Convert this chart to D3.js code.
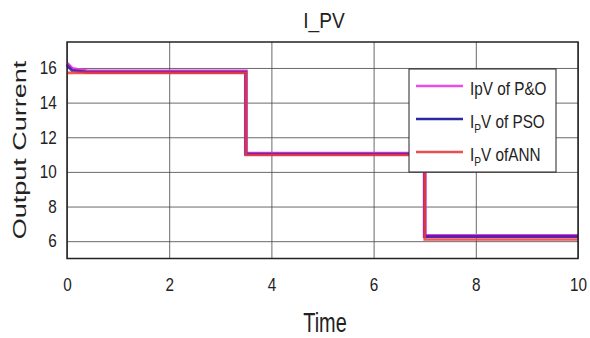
<!DOCTYPE html>
<html>
<head>
<meta charset="utf-8">
<script src="https://cdn.jsdelivr.net/npm/d3@7"></script>
<style>
  body { margin: 0; background: #fff; }
  svg text { font-family: "Liberation Sans", Arial, sans-serif; fill: #222; }
</style>
</head>
<body>
<svg id="chart"></svg>
<script>
// time breakpoints shared by all series
const timePoints = [0, 0.1, 0.4, 3.5, 3.5, 7, 7, 10];
const pnoValues = [16.25, 15.95, 15.8, 15.8, 11.05, 11.05, 6.3, 6.3];
const psoValues = [16.15, 15.85, 15.76, 15.76, 11.02, 11.02, 6.27, 6.27];
const annValues = [15.72, 15.72, 15.72, 15.72, 10.98, 10.98, 6.1, 6.1];
const xTicks = [0, 2, 4, 6, 8, 10];
const yTicks = [6, 8, 10, 12, 14, 16];

const svgWidth = 590, svgHeight = 338;
const margin = { top: 42, right: 12, bottom: 79.5, left: 67 };
const width = svgWidth - margin.left - margin.right;
const height = svgHeight - margin.top - margin.bottom;

const svg = d3.select("#chart").attr("width", svgWidth).attr("height", svgHeight);
const g = svg.append("g").attr("transform", `translate(${margin.left},${margin.top})`);

const x = d3.scaleLinear().domain([0, 10]).range([0, width]);
const y = d3.scaleLinear().domain([5, 17.5]).range([height, 0]);

// 网格线
g.append("g")
  .attr("transform", `translate(0,${height})`)
  .call(d3.axisBottom(x).tickValues(xTicks).tickSize(-height).tickFormat(""))
  .call(s => s.select(".domain").remove())
  .selectAll("line").style("stroke", "#444").style("stroke-width", 0.8);
g.append("g")
  .call(d3.axisLeft(y).tickValues(yTicks).tickSize(-width).tickFormat(""))
  .call(s => s.select(".domain").remove())
  .selectAll("line").style("stroke", "#444").style("stroke-width", 0.8);

// 折线
const line = d3.line()
  .x((d, i) => x(timePoints[i]))
  .y(d => y(d));

function drawLine(values, color, w, op) {
  g.append("path")
    .datum(values)
    .attr("d", line)
    .style("fill", "none")
    .style("stroke", color)
    .style("stroke-width", w)
    .style("opacity", op);
}
drawLine(pnoValues, "#e63ce0", 3.8, 1);
drawLine(psoValues, "#2a1a9a", 3, 0.75);
drawLine(annValues, "#f03a3a", 2.6, 0.85);

// 坐标轴刻度文字
g.append("g")
  .attr("transform", `translate(0,${height})`)
  .call(d3.axisBottom(x).tickValues(xTicks).tickSize(0).tickPadding(20))
  .call(s => s.select(".domain").remove())
  .selectAll("text").style("font-size", "18px").attr("transform", "scale(0.85,1)");
g.append("g")
  .call(d3.axisLeft(y).tickValues(yTicks).tickSize(0).tickPadding(12))
  .call(s => s.select(".domain").remove())
  .selectAll("text").style("font-size", "18px").attr("transform", "scale(0.85,1)");

// 边框
g.append("rect")
  .attr("width", width).attr("height", height)
  .style("fill", "none").style("stroke", "#222").style("stroke-width", 1.5);

// 标题和轴标签
svg.append("text")
  .attr("transform", "translate(324,28) scale(0.87,1)")
  .attr("text-anchor", "middle").style("font-size", "22px").text("I_PV");
svg.append("text")
  .attr("transform", "translate(325,332) scale(0.71,1)")
  .attr("text-anchor", "middle").style("font-size", "28px").text("Time");
svg.append("text")
  .attr("transform", "translate(26,150) rotate(-90) scale(1.5,1)")
  .attr("text-anchor", "middle").style("font-size", "18px").text("Output Current");

// 图例
const legend = svg.append("g").attr("transform", "translate(409,69)");
legend.append("rect").attr("width", 147).attr("height", 103)
  .style("fill", "#fff").style("stroke", "#222").style("stroke-width", 1);
const legendItems = [
  { color: "#e84de8", parts: ["IpV of P&O"] },
  { color: "#2a2a9a", parts: ["I", "P", "V of PSO"] },
  { color: "#e85050", parts: ["I", "P", "V ofANN"] }
];
legendItems.forEach((item, i) => {
  const ly = 17 + i * 33;
  legend.append("line").attr("x1", 7).attr("x2", 54).attr("y1", ly).attr("y2", ly)
    .style("stroke", item.color).style("stroke-width", 2.5);
  const t = legend.append("text")
    .attr("transform", `translate(61,${ly + 9}) scale(0.85,1)`)
    .style("font-size", "18px");
  if (item.parts.length === 1) {
    t.text(item.parts[0]);
  } else {
    t.append("tspan").text(item.parts[0]);
    t.append("tspan").attr("dy", 5).style("font-size", "12px").text(item.parts[1]);
    t.append("tspan").attr("dy", -5).text(item.parts[2]);
  }
});
</script>
</body>
</html>
